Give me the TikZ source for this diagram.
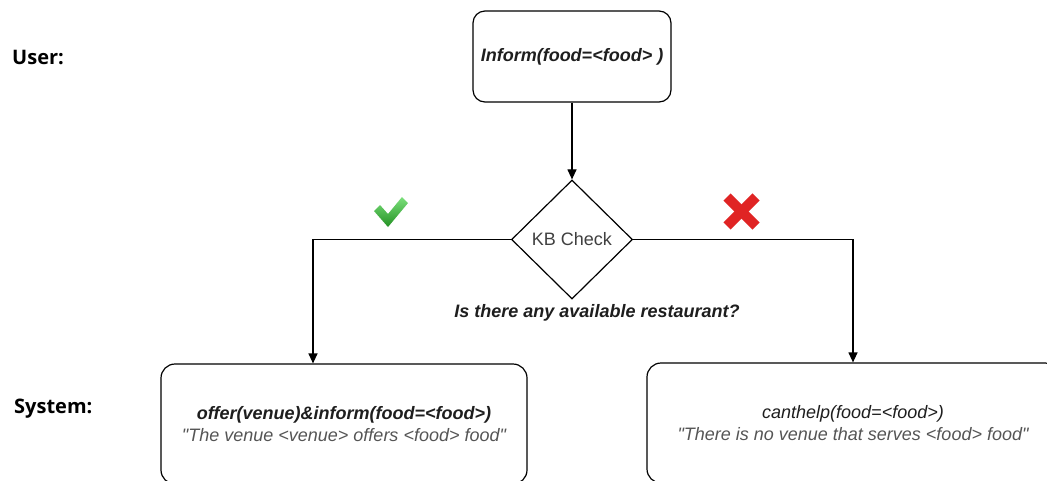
\documentclass[tikz,border=0pt]{standalone}
\usepackage{fontspec}
\setmainfont{Liberation Sans}
\newfontfamily\rolefont{Open Sans}
\usetikzlibrary{arrows.meta,shapes.geometric}

\definecolor{txtdark}{HTML}{1E1E1E}
\definecolor{txtgray}{HTML}{555555}
\definecolor{okgreen}{HTML}{2DB52D}
\definecolor{okgreenlight}{HTML}{7BE07B}
\definecolor{nored}{HTML}{E02424}

\tikzset{
  box/.style={draw=black, line width=1.2pt, rounded corners=14pt, inner sep=0pt,
    align=center, font=\fontsize{18}{22}\selectfont, text=txtdark},
  decision/.style={draw=black, line width=1.2pt, diamond, inner sep=0pt, aspect=1,
    minimum width=121pt, minimum height=119pt,
    font=\fontsize{18}{22}\selectfont, text=txtdark!85},
  role/.style={anchor=west, inner sep=0pt, font=\rolefont\bfseries\fontsize{20}{24}\selectfont, text=black},
  arr/.style={draw=black, line width=1.2pt, -{Triangle[length=10pt,width=9pt]}},
}

\begin{document}
\begin{tikzpicture}[x=1pt,y=-1pt]
  \useasboundingbox (0,0) rectangle (1047,480);
  \clip (0,0) rectangle (1047,480);
  \fill[white] (0,0) rectangle (1047,480);

  % role labels
  \node[role] (user) at (12,57) {User:};
  \node[role] (system) at (14,409) {System:};

  % user act
  \node[box, minimum width=198pt, minimum height=91pt, rounded corners=12pt]
    (inform) at (572,56.5) {\bfseries\itshape Inform(food=<food> )};

  % knowledge base check
  \node[decision] (kb) at (572,239.5) {KB Check};
  \node[font=\fontsize{18}{22}\selectfont\bfseries\itshape, text=txtdark]
    (question) at (597,313) {Is there any available restaurant?};

  % system responses
  \node[box, minimum width=366pt, minimum height=120pt] (offer) at (344,424)
    {{\bfseries\itshape offer(venue)\&inform(food=<food>)}\\
     {\itshape\color{txtgray}\textquotedbl The venue <venue> offers <food> food\textquotedbl}};
  \node[box, minimum width=412pt, minimum height=120pt] (nohelp) at (853,423)
    {{\itshape canthelp(food=<food>)}\\
     {\itshape\color{txtgray}\textquotedbl There is no venue that serves <food> food\textquotedbl}};

  % connectors
  \coordinate (leftdrop) at (313,0);
  \draw[arr] (inform) -- (kb);
  \draw[arr] (kb.west) -| (leftdrop |- offer.north);
  \draw[arr] (kb.east) -| (nohelp.north);

  % success mark
  \shade[top color=okgreenlight, bottom color=okgreen!80!black]
    (374,211) -- (380,205) -- (388,214) -- (402,197) -- (408,203) -- (388,227) -- cycle;

  % failure mark
  \draw[nored, line width=10pt] (727,197) -- (756,226);
  \draw[nored, line width=10pt] (756,197) -- (727,226);
\end{tikzpicture}
\end{document}
